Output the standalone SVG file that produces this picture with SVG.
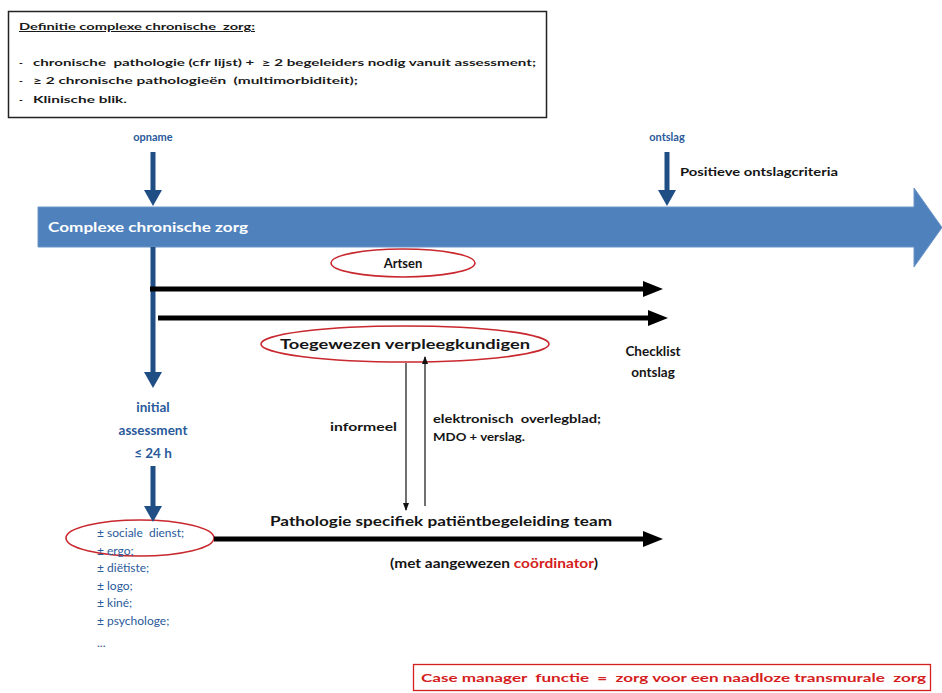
<svg xmlns="http://www.w3.org/2000/svg" width="942" height="693" viewBox="0 0 942 693">
  <style>
    text { font-family: Lato, "Open Sans", "Liberation Sans", sans-serif; white-space: pre; }
    .def { font-size: 10px; font-weight: bold; fill: #1a1a1a; }
    .blue { fill: #2a5a9a; font-weight: bold; }
    .list { fill: #2a5a9a; font-size: 12px; }
    .dark { fill: #151515; font-weight: bold; }
    .red { fill: #d42020; }
    .oval { fill: none; stroke: #c8282e; stroke-width: 1.6; }
    .thick { stroke: #000; stroke-width: 5; fill: none; }
    .thin { stroke: #111; stroke-width: 1.2; fill: none; }
    .bshaft { stroke: #1f4e85; stroke-width: 5; fill: none; }
  </style>
  <defs>
    <marker id="headBlack" viewBox="0 0 20 16" refX="0" refY="8" markerWidth="20" markerHeight="16" markerUnits="userSpaceOnUse" orient="auto">
      <path d="M0 0 L20 8 L0 16 Z" fill="#000"/>
    </marker>
    <marker id="headThin" viewBox="0 0 8 8" refX="7" refY="4" markerWidth="8" markerHeight="8" markerUnits="userSpaceOnUse" orient="auto">
      <path d="M0 1 L8 4 L0 7 Z" fill="#111"/>
    </marker>
    <marker id="headBlue" viewBox="0 0 16 18" refX="0" refY="9" markerWidth="16" markerHeight="18" markerUnits="userSpaceOnUse" orient="auto">
      <path d="M0 0 L16 9 L0 18 Z" fill="#1f4e85"/>
    </marker>
  </defs>

  <rect width="942" height="693" fill="#fff"/>

  <!-- definition box -->
  <g id="definition">
    <rect x="8.5" y="11.5" width="538" height="106" fill="#fff" stroke="#222" stroke-width="1.5"/>
    <text class="def" x="19" y="30" text-decoration="underline" textLength="236" lengthAdjust="spacingAndGlyphs">Definitie complexe chronische  zorg:</text>
    <text class="def" x="19" y="66">-</text>
    <text class="def" x="33" y="66" textLength="503" lengthAdjust="spacingAndGlyphs">chronische  pathologie (cfr lijst) +  ≥ 2 begeleiders nodig vanuit assessment;</text>
    <text class="def" x="19" y="84">-</text>
    <text class="def" x="33" y="84" textLength="325" lengthAdjust="spacingAndGlyphs">≥ 2 chronische pathologieën  (multimorbiditeit);</text>
    <text class="def" x="19" y="103">-</text>
    <text class="def" x="33" y="103" textLength="94" lengthAdjust="spacingAndGlyphs">Klinische blik.</text>
  </g>

  <!-- timeline -->
  <g id="timeline">
    <path d="M38 207 H914 V188 L942 227.5 L914 267 V247 H38 Z" fill="#4f81bd" stroke="#6b95c8" stroke-width="1"/>
    <text x="48" y="232" font-size="13.5" font-weight="bold" fill="#fff" textLength="200" lengthAdjust="spacingAndGlyphs">Complexe chronische zorg</text>
  </g>

  <g id="opname">
    <text class="blue" x="153" y="141" font-size="11" text-anchor="middle">opname</text>
  </g>
  <g id="ontslag">
    <text class="blue" x="667" y="141" font-size="11" text-anchor="middle">ontslag</text>
    <text class="dark" x="680" y="176" font-size="10.5" textLength="158" lengthAdjust="spacingAndGlyphs">Positieve ontslagcriteria</text>
  </g>

  <g id="artsen">
    <ellipse class="oval" cx="403" cy="263" rx="72" ry="14"/>
    <text class="dark" x="403" y="268" font-size="13" text-anchor="middle">Artsen</text>
  </g>

  <g id="verpleegkundigen">
    <ellipse class="oval" cx="405" cy="344" rx="144" ry="18"/>
    <text class="dark" x="405" y="349" font-size="13.5" text-anchor="middle" textLength="250" lengthAdjust="spacingAndGlyphs">Toegewezen verpleegkundigen</text>
  </g>

  <g id="checklist">
    <text class="dark" x="653" y="356" font-size="13.5" text-anchor="middle">Checklist</text>
    <text class="dark" x="653" y="377" font-size="13.5" text-anchor="middle">ontslag</text>
  </g>

  <g id="assessment">
    <text class="blue" x="153" y="412" font-size="13.5" text-anchor="middle">initial</text>
    <text class="blue" x="153" y="435" font-size="13.5" text-anchor="middle">assessment</text>
    <text class="blue" x="153" y="458" font-size="13.5" text-anchor="middle">≤ 24 h</text>
  </g>

  <g id="overleg-labels">
    <text class="dark" x="330" y="431" font-size="10.5" textLength="67" lengthAdjust="spacingAndGlyphs">informeel</text>
    <text class="dark" x="433" y="423" font-size="10.5" textLength="168" lengthAdjust="spacingAndGlyphs">elektronisch  overlegblad;</text>
    <text class="dark" x="433" y="441" font-size="10.5" textLength="92" lengthAdjust="spacingAndGlyphs">MDO + verslag.</text>
  </g>

  <g id="team">
    <text class="dark" x="270" y="526" font-size="14" textLength="342" lengthAdjust="spacingAndGlyphs">Pathologie specifiek patiëntbegeleiding team</text>
    <text class="dark" x="390" y="568" font-size="13" textLength="208" lengthAdjust="spacingAndGlyphs">(met aangewezen <tspan class="red">coördinator</tspan>)</text>
  </g>

  <g id="disciplines">
    <ellipse class="oval" cx="140" cy="538" rx="74" ry="18"/>
    <text class="list" x="97" y="537">± sociale  dienst;</text>
    <text class="list" x="97" y="555">± ergo;</text>
    <text class="list" x="97" y="572">± diëtiste;</text>
    <text class="list" x="97" y="590">± logo;</text>
    <text class="list" x="97" y="607">± kiné;</text>
    <text class="list" x="97" y="625">± psychologe;</text>
    <text class="list" x="97" y="647">...</text>
  </g>

  <g id="case-manager">
    <rect x="413.5" y="664.5" width="517" height="26" fill="#fff" stroke="#d42020" stroke-width="1.3"/>
    <text class="red" x="421" y="682" font-size="12" font-weight="bold" textLength="505" lengthAdjust="spacingAndGlyphs">Case manager  functie  =  zorg voor een naadloze transmurale  zorg</text>
  </g>

  <!-- connectors -->
  <g id="connectors">
    <line class="bshaft" x1="153" y1="152" x2="153" y2="190" marker-end="url(#headBlue)"/>
    <line class="bshaft" x1="667" y1="152" x2="667" y2="190" marker-end="url(#headBlue)"/>
    <line class="bshaft" x1="153" y1="247" x2="153" y2="372" marker-end="url(#headBlue)"/>
    <line class="bshaft" x1="153" y1="466" x2="153" y2="506" marker-end="url(#headBlue)"/>
    <line class="thick" x1="150" y1="289" x2="643" y2="289" marker-end="url(#headBlack)"/>
    <line class="thick" x1="158" y1="318" x2="648" y2="318" marker-end="url(#headBlack)"/>
    <line class="thick" x1="214" y1="539" x2="643" y2="539" marker-end="url(#headBlack)"/>
    <line class="thin" x1="406" y1="363" x2="406" y2="510" marker-end="url(#headThin)"/>
    <line class="thin" x1="425" y1="506" x2="425" y2="357" marker-end="url(#headThin)"/>
  </g>
</svg>
